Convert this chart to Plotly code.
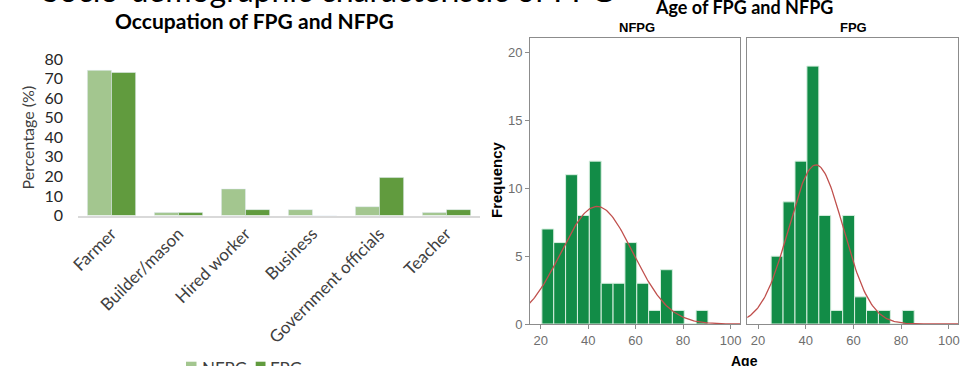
import math
import plotly.graph_objects as go

# ---------------- data ----------------
occupations = ["Farmer", "Builder/mason", "Hired worker", "Business", "Government officials", "Teacher"]
nfpg_pct = [74.2, 1.5, 13.6, 3.0, 4.5, 1.5]
fpg_pct = [73.1, 1.5, 3.0, 0.0, 19.4, 3.0]
pct_ticks = [0, 10, 20, 30, 40, 50, 60, 70, 80]
group_names = ["NFPG", "FPG"]

age_bin_width = 5
nfpg_age_centers = [23, 28, 33, 38, 43, 48, 53, 58, 63, 68, 73, 78, 83, 88]
nfpg_age_counts = [7, 6, 11, 8, 12, 3, 3, 6, 3, 1, 4, 1, 0, 1]
fpg_age_centers = [28, 33, 38, 43, 48, 53, 58, 63, 68, 73, 78, 83]
fpg_age_counts = [5, 9, 12, 19, 8, 1, 8, 2, 1, 1, 0, 1]
nfpg_mean, nfpg_sd, nfpg_n = 43.7, 15.2, 66
fpg_mean, fpg_sd, fpg_n = 44.3, 11.4, 67
age_ticks = [20, 40, 60, 80, 100]
freq_ticks = [0, 5, 10, 15, 20]

W, H = 963, 366
LIGHT = "#a3c68f"
DARK = "#619b3e"
HIST = "#128c47"
CURVE = "#c0504d"
FRAME = "#8c8c8c"
TICKC = "#6e6e6e"


def px_x(p):
    return p / W


def px_y(p):
    return 1 - p / H


def normal_curve(mean, sd, n, x0, x1, steps=200):
    xs, ys = [], []
    for i in range(steps + 1):
        x = x0 + (x1 - x0) * i / steps
        xs.append(x)
        ys.append(n * age_bin_width / (sd * math.sqrt(2 * math.pi)) * math.exp(-((x - mean) ** 2) / (2 * sd ** 2)))
    return xs, ys


fig = go.Figure()

# ---- left: occupation bars ----
fig.add_trace(go.Bar(x=occupations, y=nfpg_pct, name=group_names[0], marker_color=LIGHT,
                     xaxis="x", yaxis="y"))
fig.add_trace(go.Bar(x=occupations, y=fpg_pct, name=group_names[1], marker_color=DARK,
                     xaxis="x", yaxis="y"))

# ---- right: histograms ----
fig.add_trace(go.Bar(x=nfpg_age_centers, y=nfpg_age_counts, width=age_bin_width,
                     marker=dict(color=HIST, line=dict(color="#d8efe0", width=1)),
                     xaxis="x2", yaxis="y2"))
cx, cy = normal_curve(nfpg_mean, nfpg_sd, nfpg_n, 10, 110)
fig.add_trace(go.Scatter(x=cx, y=cy, mode="lines", line=dict(color=CURVE, width=1.3),
                         xaxis="x2", yaxis="y2"))
fig.add_trace(go.Bar(x=fpg_age_centers, y=fpg_age_counts, width=age_bin_width,
                     marker=dict(color=HIST, line=dict(color="#d8efe0", width=1)),
                     xaxis="x3", yaxis="y3"))
cx, cy = normal_curve(fpg_mean, fpg_sd, fpg_n, 10, 110)
fig.add_trace(go.Scatter(x=cx, y=cy, mode="lines", line=dict(color=CURVE, width=1.3),
                         xaxis="x3", yaxis="y3"))

lato = "Lato, 'Open Sans', sans-serif"
arial = "'Liberation Sans', Arial, sans-serif"

age_axis = dict(range=[15.5, 104], tickvals=age_ticks, showline=True, linecolor=FRAME, linewidth=1,
                mirror=True, ticks="outside", ticklen=4, tickcolor=FRAME, showgrid=False, zeroline=False,
                tickfont=dict(family=arial, size=13, color=TICKC), fixedrange=True, automargin=False)

fig.update_layout(
    width=W, height=H,
    margin=dict(l=0, r=0, t=0, b=0),
    paper_bgcolor="white", plot_bgcolor="white",
    barmode="group", bargap=0.28, bargroupgap=0,
    showlegend=False,
    xaxis=dict(domain=[px_x(78), px_x(480)], showline=True, linecolor="#d9d9d9", linewidth=1.5,
               ticks="", tickangle=-45, showgrid=False, zeroline=False, automargin=False,
               tickfont=dict(family=lato, size=17, color="#404040"), fixedrange=True),
    yaxis=dict(domain=[px_y(215.5), px_y(59)], range=[0, 80], tickvals=pct_ticks, showgrid=False,
               zeroline=False, showline=False, ticks="", ticklabelstandoff=14, automargin=False,
               tickfont=dict(family=lato, size=16, color="#262626"), fixedrange=True),
    xaxis2=dict(domain=[px_x(530), px_x(740)], anchor="y2", **age_axis),
    yaxis2=dict(domain=[px_y(324), px_y(38.3)], anchor="x2", range=[0, 21.05], tickvals=freq_ticks,
                showline=True, linecolor=FRAME, linewidth=1, mirror=True, ticks="outside", ticklen=4,
                tickcolor=FRAME, showgrid=False, zeroline=False, automargin=False,
                tickfont=dict(family=arial, size=13, color=TICKC), fixedrange=True),
    xaxis3=dict(domain=[px_x(747.3), px_x(958.3)], anchor="y3", **age_axis),
    yaxis3=dict(domain=[px_y(324), px_y(38.3)], anchor="x3", range=[0, 21.05], tickvals=freq_ticks,
                showline=True, linecolor=FRAME, linewidth=1, mirror=True, ticks="", showticklabels=False,
                showgrid=False, zeroline=False, fixedrange=True, automargin=False),
)

annotations = [
    dict(text="Socio-demographic characteristic of FPG", x=px_x(40), y=px_y(11), xref="paper", yref="paper",
         xanchor="left", yanchor="bottom", showarrow=False, font=dict(family=lato, size=32, color="#000000")),
    dict(text="<b>Occupation of FPG and NFPG</b>", x=px_x(255), y=px_y(20.5), xref="paper", yref="paper",
         xanchor="center", yanchor="middle", showarrow=False, font=dict(family=lato, size=21, color="#000000")),
    dict(text="Percentage (%)", x=px_x(27), y=px_y(137.5), xref="paper", yref="paper", textangle=-90,
         xanchor="center", yanchor="middle", showarrow=False, font=dict(family=lato, size=16, color="#404040")),
    dict(text="<b>Age of FPG and NFPG</b>", x=px_x(744), y=px_y(7), xref="paper", yref="paper",
         xanchor="center", yanchor="middle", showarrow=False, font=dict(family=lato, size=18, color="#000000")),
    dict(text="<b>NFPG</b>", x=px_x(636.7), y=px_y(28), xref="paper", yref="paper",
         xanchor="center", yanchor="middle", showarrow=False, font=dict(family=arial, size=13, color="#000000")),
    dict(text="<b>FPG</b>", x=px_x(853), y=px_y(28), xref="paper", yref="paper",
         xanchor="center", yanchor="middle", showarrow=False, font=dict(family=arial, size=13, color="#000000")),
    dict(text="<b>Frequency</b>", x=px_x(496), y=px_y(180), xref="paper", yref="paper", textangle=-90,
         xanchor="center", yanchor="middle", showarrow=False, font=dict(family=arial, size=15, color="#000000")),
    dict(text="<b>Age</b>", x=px_x(744), y=px_y(361), xref="paper", yref="paper",
         xanchor="center", yanchor="middle", showarrow=False, font=dict(family=arial, size=14, color="#000000")),
    # manual legend (cut at the bottom edge like the reference)
    dict(text=group_names[0], x=px_x(200), y=px_y(368), xref="paper", yref="paper",
         xanchor="left", yanchor="middle", showarrow=False, font=dict(family=lato, size=17, color="#404040")),
    dict(text=group_names[1], x=px_x(268), y=px_y(368), xref="paper", yref="paper",
         xanchor="left", yanchor="middle", showarrow=False, font=dict(family=lato, size=17, color="#404040")),
]
fig.update_layout(annotations=annotations)

shapes = [
    dict(type="rect", xref="paper", yref="paper", x0=px_x(186), x1=px_x(196.5), y0=px_y(372), y1=px_y(361.7),
         fillcolor=LIGHT, line=dict(width=0)),
    dict(type="rect", xref="paper", yref="paper", x0=px_x(255.7), x1=px_x(265.5), y0=px_y(372), y1=px_y(361.7),
         fillcolor=DARK, line=dict(width=0)),
]
fig.update_layout(shapes=shapes)

fig.write_html("out.html", config={"displayModeBar": False},
               post_script="document.body.style.margin='0px';document.body.style.overflow='hidden';")
